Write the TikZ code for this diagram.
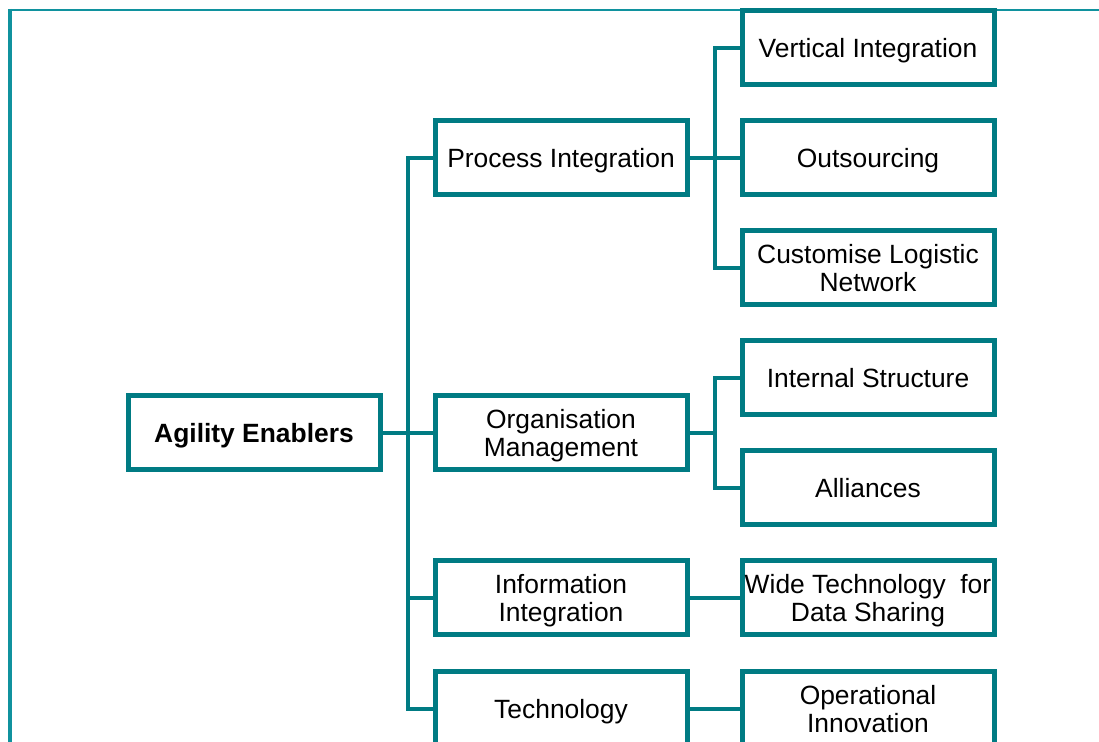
\documentclass[tikz,border=0pt]{standalone}
\usepackage{fontspec}
\setmainfont{Liberation Sans}
\definecolor{boxteal}{RGB}{0,123,131}
\definecolor{frameteal}{RGB}{16,146,158}

\begin{document}
\begin{tikzpicture}[
x=0.5pt,y=-0.5pt,
font=\fontsize{13.2}{14}\selectfont,
box/.style={rectangle,draw=boxteal,fill=white,line width=2.5pt,outer sep=0pt,inner sep=1pt,minimum width=126pt,minimum height=37pt,text depth=0pt,align=center},
rootbox/.style={box,font=\fontsize{13.2}{14}\selectfont\bfseries},
link/.style={draw=boxteal,line width=2.2pt},
frame/.style={draw=frameteal},
]
\useasboundingbox (0,0) rectangle (1099,742);
\clip (0,0) rectangle (1099,742);

% Outer frame (cut at right and bottom)
\draw[frame,line width=2pt] (10,9) -- (10,742);
\draw[frame,line width=1.2pt] (9,10) -- (1099,10);

% Root
\node[rootbox] (ae) at (254,433) {Agility Enablers};

% First level
\foreach \nm/\yy/\txt in {pi/158/Process Integration,
                         om/433/{Organisation\\Management},
                         ii/598/{Information\\Integration},
                         te/709/Technology}{
  \node[box] (\nm) at (561,\yy) {\txt};
}

% Second level
\foreach \nm/\yy/\txt in {vi/48/Vertical Integration,
                         ou/158/Outsourcing,
                         cl/268/{Customise Logistic\\Network},
                         is/378/Internal Structure,
                         al/488/Alliances,
                         wt/598/{Wide Technology\ \ for\\Data Sharing},
                         oi/709/{Operational\\Innovation}}{
  \node[box] (\nm) at (868,\yy) {\txt};
}

% Trunk from the root
\coordinate (j0) at (408,433);
\draw[link] (ae) -- (j0);
\foreach \nm in {pi,om,ii,te}
  \draw[link] (j0) |- (\nm.west);

% Branches of the first level
\coordinate (j1) at (715,158);
\draw[link] (pi) -- (j1);
\foreach \nm in {vi,ou,cl}
  \draw[link] (j1) |- (\nm.west);

\coordinate (j2) at (715,433);
\draw[link] (om) -- (j2);
\foreach \nm in {is,al}
  \draw[link] (j2) |- (\nm.west);

\draw[link] (ii) -- (wt);
\draw[link] (te) -- (oi);
\end{tikzpicture}
\end{document}
